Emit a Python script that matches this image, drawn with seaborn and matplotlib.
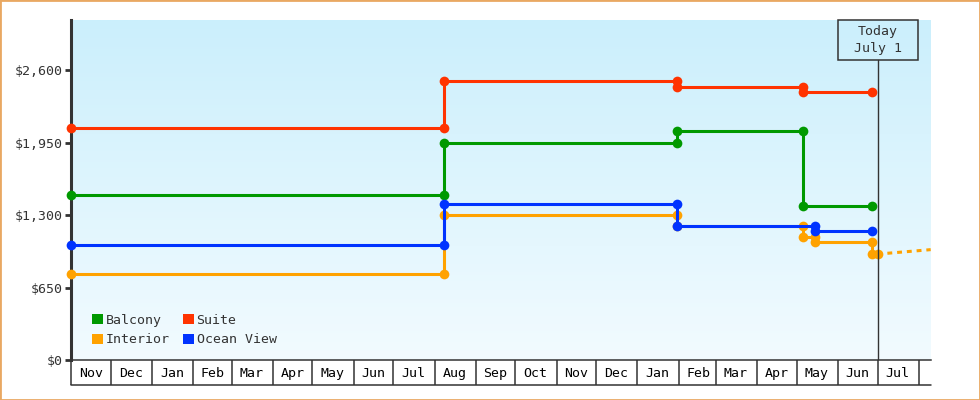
import matplotlib
matplotlib.use("Agg")
import matplotlib.pyplot as plt
import matplotlib.dates as mdates
import matplotlib.transforms as mtransforms
from matplotlib.patches import Patch, Rectangle
from matplotlib.lines import Line2D
import numpy as np
import pandas as pd
import seaborn as sns

# price history per cabin type (step changes, two points per change)
balcony_dates = ["2011-11-01", "2012-08-08", "2012-08-08", "2013-01-31",
                 "2013-01-31", "2013-05-06", "2013-05-06", "2013-06-27"]
balcony_prices = [1480, 1480, 1950, 1950, 2050, 2050, 1380, 1380]

suite_dates = ["2011-11-01", "2012-08-08", "2012-08-08", "2013-01-31",
               "2013-01-31", "2013-05-06", "2013-05-06", "2013-06-27"]
suite_prices = [2080, 2080, 2500, 2500, 2450, 2450, 2400, 2400]

interior_dates = ["2011-11-01", "2012-08-08", "2012-08-08", "2013-01-31",
                  "2013-01-31", "2013-05-06", "2013-05-06", "2013-05-15",
                  "2013-05-15", "2013-06-27", "2013-06-27", "2013-07-01"]
interior_prices = [775, 775, 1300, 1300, 1200, 1200, 1100, 1100, 1060, 1060, 950, 950]

ocean_dates = ["2011-11-01", "2012-08-08", "2012-08-08", "2013-01-31",
               "2013-01-31", "2013-05-15", "2013-05-15", "2013-06-27"]
ocean_prices = [1030, 1030, 1400, 1400, 1200, 1200, 1155, 1155]

# dotted projection for Interior
forecast_dates = ["2013-07-01", "2013-08-10"]
forecast_prices = [950, 990]

today = pd.Timestamp("2013-07-01")
x_start = pd.Timestamp("2011-11-01")
x_end = pd.Timestamp("2013-08-10")
y_ticks = [0, 650, 1300, 1950, 2600]
y_max = 3050

cabins = ["Balcony", "Suite", "Interior", "Ocean View"]
colors = {"Balcony": "#009900", "Suite": "#ff3300",
          "Interior": "#ffa200", "Ocean View": "#0033ff"}

frames = []
for name, d, p in [("Balcony", balcony_dates, balcony_prices),
                   ("Suite", suite_dates, suite_prices),
                   ("Interior", interior_dates, interior_prices),
                   ("Ocean View", ocean_dates, ocean_prices)]:
    frames.append(pd.DataFrame({"date": pd.to_datetime(d), "price": p, "cabin": name}))
df = pd.concat(frames, ignore_index=True)

sns.set_style("white")
plt.rcParams["font.family"] = ["DejaVu Sans Mono"]
ink = "#333333"

fig = plt.figure(figsize=(9.8, 4), dpi=100)
ax = fig.add_axes([71 / 980, 40 / 400, 859.7 / 980, 340 / 400])

sns.lineplot(data=df, x="date", y="price", hue="cabin", hue_order=cabins,
             palette=colors, estimator=None, sort=False, ax=ax,
             linewidth=2.2, marker="o", markersize=7, markeredgewidth=0,
             legend=False, zorder=3)
for ln in ax.lines:
    ln.set_clip_on(False)
ax.plot(pd.to_datetime(forecast_dates), forecast_prices, color=colors["Interior"],
        linewidth=2.2, dashes=(1.6, 1.6), zorder=2)

# gradient background
top = np.array([203, 239, 252]) / 255
bot = np.array([242, 251, 255]) / 255
t = np.linspace(0, 1, 256)[:, None, None]
grad = top * (1 - t) + bot * t
ax.imshow(grad, extent=[0, 1, 0, 1], transform=ax.transAxes,
          aspect="auto", origin="upper", zorder=0)

ax.set_xlim(x_start, x_end)
ax.set_ylim(0, y_max)

# y axis
ax.set_yticks(y_ticks)
ax.yaxis.set_major_formatter(matplotlib.ticker.FuncFormatter(lambda v, _: f"${v:,.0f}"))
ax.tick_params(axis="y", length=4, width=2, color=ink, labelsize=9.5,
               labelcolor=ink, pad=2, left=True)
ax.set_ylabel("")
ax.set_xlabel("")

# month boxes on x axis
ax.xaxis.set_major_locator(mdates.MonthLocator(bymonthday=16))
ax.xaxis.set_major_formatter(mdates.DateFormatter("%b"))
ax.xaxis.set_minor_locator(mdates.MonthLocator())
ax.tick_params(axis="x", which="major", length=0, labelsize=9.5,
               labelcolor="black", pad=5)
ax.tick_params(axis="x", which="minor", length=18, width=1.1, color=ink,
               bottom=True)
ax.add_line(Line2D([0, 1], [-25 / 340, -25 / 340], transform=ax.transAxes,
                   color=ink, linewidth=1.1, clip_on=False))

for side in ["top", "right"]:
    ax.spines[side].set_visible(False)
ax.spines["left"].set_color(ink)
ax.spines["left"].set_linewidth(2.2)
ax.spines["left"].set_zorder(2)
ax.spines["bottom"].set_color(ink)
ax.spines["bottom"].set_linewidth(1.1)
ax.grid(False)

# today marker
box_bottom = (360 - 60.3) / 340
ax.axvline(today, ymin=0, ymax=box_bottom, color=ink, linewidth=1.0, zorder=4)
blend = mtransforms.blended_transform_factory(ax.transData, ax.transAxes)
half_w = 30.2
tnum = mdates.date2num(today)
ax.add_patch(Rectangle((tnum - half_w, box_bottom), 2 * half_w, 1 - box_bottom,
                       transform=blend, fill=False, edgecolor=ink,
                       linewidth=1.1, clip_on=False, zorder=5))
ax.text(tnum, (1 + box_bottom) / 2, "Today\nJuly 1", transform=blend,
        ha="center", va="center", fontsize=9.5, color=ink, linespacing=1.35,
        zorder=6)

# legend
handles = [Patch(facecolor=colors[c], edgecolor="none", label=c)
           for c in ["Balcony", "Interior", "Suite", "Ocean View"]]
ax.legend(handles=handles, ncol=2, loc="lower left",
          bbox_to_anchor=(0.024, 0.04), frameon=False, fontsize=9.5,
          handlelength=0.85, handleheight=0.85, handletextpad=0.2,
          columnspacing=1.0, labelspacing=0.5, borderpad=0, borderaxespad=0,
          labelcolor=ink)

# orange frame around the whole picture
fig.patches.append(Rectangle((0, 0), 1, 1, transform=fig.transFigure,
                             fill=False, edgecolor="#e9a862", linewidth=2))

fig.savefig("out.png", dpi=100)
